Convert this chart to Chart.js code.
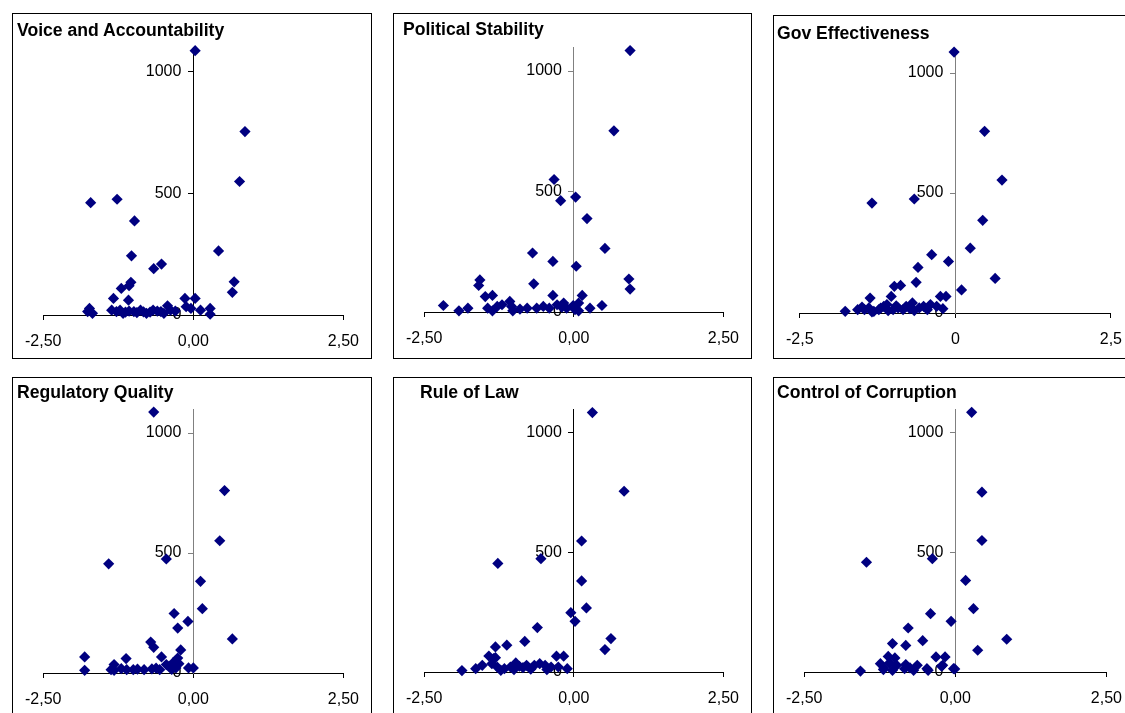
<!DOCTYPE html>
<html>
<head>
<meta charset="utf-8">
<script src="https://cdn.jsdelivr.net/npm/chart.js@4.4.0/dist/chart.umd.min.js"></script>
<style>
  body { margin: 0; width: 1125px; height: 713px; overflow: hidden; background: #fff; position: relative; font-family: "Liberation Sans", Arial, sans-serif; }
  .panel { position: absolute; border: 1px solid #000; background: #fff; }
  .panel canvas { position: absolute; left: 0; top: 0; }
  .ttl { position: absolute; font-weight: bold; font-size: 17.6px; line-height: 20px; white-space: nowrap; color: #000; }
</style>
</head>
<body>
<script>
const titles = ['Voice and Accountability', 'Political Stability', 'Gov Effectiveness',
                'Regulatory Quality', 'Rule of Law', 'Control of Corruption'];
const xTicks = [-2.5, 0, 2.5];
const yTicks = [0, 500, 1000];
const xLabelsLong = ['-2,50', '0,00', '2,50'];
const xLabelsShort = ['-2,5', '0', '2,5'];

// [indicator score, value]
const voice = [[0.03,1085],[0.86,753],[0.77,548],[-1.71,461],[-1.27,475],[-0.98,386],[-1.03,243],[0.42,263],
  [-0.66,190],[-0.53,209],[-1.20,109],[-1.07,120],[-1.04,134],[0.68,136],[0.65,93],[-1.33,68],[-1.08,61],
  [-0.14,68],[0.03,68],[-1.73,27],[-1.68,7],[-1.76,14],[-1.36,20],[-1.28,14],[-1.17,7],[-1.07,16],[-0.99,14],
  [-0.88,20],[-0.78,7],[-0.67,20],[-0.54,14],[-0.43,38],[-0.38,20],[-0.49,7],[-0.12,34],[-0.04,27],[0.12,20],
  [0.28,27],[0.28,3],[-1.22,20],[-0.94,10],[-0.72,12],[-0.60,16],[-0.30,16],[-1.13,12],[-0.83,13]];
const stability = [[0.94,1085],[0.67,752],[-0.33,550],[-0.22,462],[0.03,477],[0.22,388],[0.52,264],[-0.69,245],
  [-0.35,210],[0.04,190],[-0.67,117],[0.92,137],[0.94,95],[-1.57,133],[-1.59,110],[-0.35,69],[0.14,69],
  [-1.48,64],[-1.36,69],[-2.18,27],[-1.92,5],[-1.77,16],[-1.44,16],[-1.36,5],[-1.28,23],[-1.20,30],[-1.07,44],
  [-1.04,23],[-1.02,5],[-0.78,16],[-0.62,16],[-0.51,23],[-0.41,16],[-0.28,30],[-0.17,37],[-0.12,16],
  [-0.01,27],[0.08,37],[0.08,5],[0.27,16],[0.47,27],[-0.90,12],[-0.20,20],[0.02,10]];
const govEff = [[-0.02,1087],[0.47,757],[0.75,554],[-1.34,458],[-0.66,475],[0.44,386],[0.24,270],[-0.38,243],
  [-0.11,215],[-0.60,190],[-0.63,128],[-0.98,111],[-0.88,115],[0.64,144],[0.10,96],[-1.37,62],[-1.03,69],
  [-0.24,69],[-0.15,69],[-1.77,7],[-1.57,14],[-1.46,14],[-1.39,21],[-1.31,7],[-1.23,14],[-1.15,28],[-1.08,10],
  [-1.00,14],[-0.92,21],[-0.84,14],[-0.79,28],[-0.69,42],[-0.66,10],[-0.58,21],[-0.51,28],[-0.40,35],
  [-0.30,28],[-0.20,18],[-1.34,5],[-1.20,20],[-0.95,30],[-0.73,18],[-0.45,14],[-1.50,25],[-1.10,35]];
const regQuality = [[-0.66,1087],[0.52,760],[0.44,551],[-1.41,455],[-0.45,475],[0.12,382],[0.15,268],[-0.32,248],
  [-0.09,215],[-0.26,187],[0.65,142],[-0.71,129],[-0.66,107],[-0.21,96],[-0.53,67],[-1.81,67],[-1.81,11],
  [-1.12,60],[-1.32,35],[-1.32,11],[-1.37,14],[-1.11,14],[-1.00,14],[-0.82,14],[-0.69,17],[-0.56,14],
  [-0.45,35],[-0.40,28],[-0.34,42],[-0.26,62],[-0.29,21],[-0.24,39],[-0.08,21],[0.00,21],[-0.93,16],
  [-0.62,20],[-0.36,15],[-1.20,18]];
const ruleOfLaw = [[0.31,1085],[0.84,756],[0.13,548],[-1.27,454],[-0.55,474],[0.13,381],[0.21,268],[-0.05,248],
  [0.02,212],[-0.61,186],[-0.82,128],[-1.12,112],[-1.31,105],[0.62,140],[0.52,94],[-1.42,67],[-1.31,60],
  [-0.29,66],[-0.17,66],[-1.87,6],[-1.64,14],[-1.53,28],[-1.34,56],[-1.37,35],[-1.28,21],[-1.22,7],[-1.16,14],
  [-1.06,21],[-0.97,38],[-0.91,24],[-0.79,28],[-0.66,28],[-0.57,35],[-0.48,28],[-0.38,21],[-0.26,21],
  [-0.11,14],[-1.00,10],[-0.72,12],[-0.45,10],[-0.85,18]];
const corruption = [[0.27,1086],[0.44,752],[0.44,550],[-1.47,459],[-0.38,474],[0.17,383],[0.30,265],[-0.41,244],
  [-0.07,212],[-0.78,184],[0.85,137],[-1.04,119],[-0.82,111],[-0.54,131],[0.37,91],[-0.32,63],[-0.17,63],
  [-1.11,65],[-1.00,59],[-1.57,4],[-1.24,35],[-1.19,10],[-1.04,7],[-0.97,28],[-0.84,14],[-0.82,31],[-0.69,7],
  [-0.63,28],[-0.47,14],[-0.45,7],[-0.21,28],[-0.03,14],[-1.18,17],[-1.09,38],[-0.75,17],[-0.23,24],[-0.01,13]];

const series = [voice, stability, govEff, regQuality, ruleOfLaw, corruption];

// frame on the page, plot area inside the frame (left, right, top, bottom), title spot
const panels = [
  {x: 12,  y: 13,  w: 360, h: 346, area: [23, 338, 33, 301], tx: 4,  ty: 6, axis: '#000',    short: false},
  {x: 393, y: 13,  w: 359, h: 346, area: [22, 337, 33, 298], tx: 9,  ty: 5, axis: '#808080', short: false},
  {x: 773, y: 15,  w: 362, h: 344, area: [17, 341, 33, 297], tx: 3,  ty: 7, axis: '#808080', short: true},
  {x: 12,  y: 377, w: 360, h: 346, area: [23, 338, 31, 295], tx: 4,  ty: 4, axis: '#808080', short: false},
  {x: 393, y: 377, w: 359, h: 346, area: [22, 337, 31, 294], tx: 26, ty: 4, axis: '#000',    short: false},
  {x: 773, y: 377, w: 362, h: 346, area: [22, 338, 31, 294], tx: 3,  ty: 4, axis: '#808080', short: false}
];

Chart.defaults.font.family = '"Liberation Sans", Arial, sans-serif';
Chart.defaults.color = '#000';

const X_AXIS_H = 40;

panels.forEach((p, i) => {
  const box = document.createElement('div');
  box.className = 'panel';
  box.style.left = p.x + 'px';
  box.style.top = p.y + 'px';
  box.style.width = (p.w - 2) + 'px';
  box.style.height = (p.h - 2) + 'px';
  const W = p.w - 2, H = p.h - 2;
  const cv = document.createElement('canvas');
  cv.width = W;
  cv.height = H;
  box.appendChild(cv);
  const t = document.createElement('div');
  t.className = 'ttl';
  t.style.left = p.tx + 'px';
  t.style.top = p.ty + 'px';
  t.textContent = titles[i];
  box.appendChild(t);
  document.body.appendChild(box);

  const labels = p.short ? xLabelsShort : xLabelsLong;
  const a = p.area;

  new Chart(cv, {
    type: 'scatter',
    data: {
      datasets: [{
        data: series[i].map(d => ({x: d[0], y: d[1]})),
        pointStyle: 'rectRot',
        pointRadius: 5.6,
        pointHoverRadius: 5.6,
        backgroundColor: '#000080',
        borderColor: '#000080',
        borderWidth: 0,
        clip: false
      }]
    },
    options: {
      responsive: false,
      animation: false,
      events: [],
      layout: {
        padding: {left: a[0], right: W - a[1], top: a[2], bottom: H - a[3] - X_AXIS_H}
      },
      plugins: {
        legend: {display: false},
        tooltip: {enabled: false}
      },
      scales: {
        x: {
          type: 'linear',
          position: 'bottom',
          min: -2.5,
          max: 2.5,
          afterBuildTicks: s => { s.ticks = xTicks.map(v => ({value: v})); },
          afterFit: s => { s.height = X_AXIS_H; },
          ticks: {
            autoSkip: false,
            maxRotation: 0,
            padding: 12,
            font: {size: 16},
            color: '#000',
            callback: (v, idx) => labels[idx]
          },
          grid: {drawOnChartArea: false, tickLength: 5, color: '#000', tickColor: '#000'},
          border: {color: '#000', width: 1}
        },
        y: {
          type: 'linear',
          position: 'center',
          min: 0,
          max: 1100,
          afterBuildTicks: s => { s.ticks = yTicks.map(v => ({value: v})); },
          afterFit: s => { s.width = 0; },
          ticks: {
            autoSkip: false,
            padding: 7,
            font: {size: 16},
            color: '#000',
            callback: v => String(v)
          },
          grid: {drawOnChartArea: false, tickLength: 5, color: p.axis, tickColor: p.axis},
          border: {color: p.axis, width: 1}
        }
      }
    }
  });
});
</script>
</body>
</html>
